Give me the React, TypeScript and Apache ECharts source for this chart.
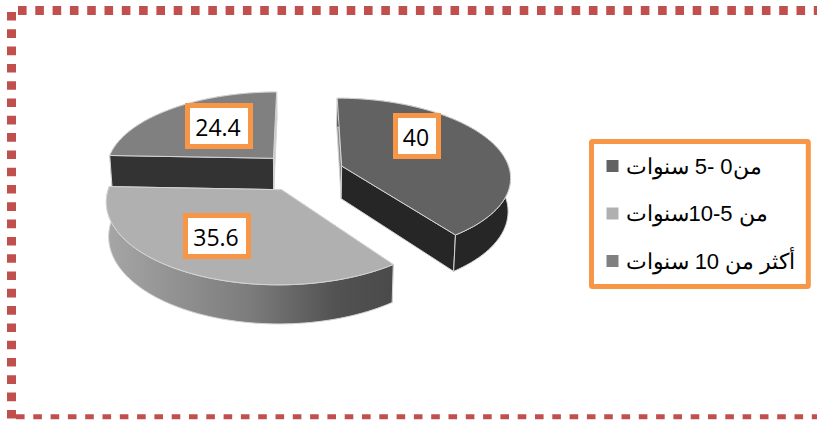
import React, { useEffect, useRef } from "react";
import * as echarts from "echarts";

const categories = ["من0 -5 سنوات", "من 5-10سنوات", "أكثر من 10 سنوات"];
const values = [40, 35.6, 24.4];
const valueLabels = ["40", "35.6", "24.4"];

const topColors = ["#626262", "#b0b0b0", "#808080"];
const wallColors: any[] = [
  "#262626",
  new echarts.graphic.LinearGradient(0, 0, 1, 0, [
    { offset: 0, color: "#a6a6a6" },
    { offset: 0.5, color: "#7c7c7c" },
    { offset: 0.8, color: "#525252" },
    { offset: 1, color: "#4a4a4a" },
  ]),
  "#333333",
];
const startCutColors = ["#8c8c8c", "#4a4a4a", "#333333"];
const endCutColors = ["#262626", "#4a4a4a", "#c8c8c8"];
const stackOrder = [2, 3, 1];
const labelBoxes = [
  { x: 395.5, y: 115.5, w: 43, h: 41 },
  { x: 185.5, y: 215.5, w: 63, h: 41 },
  { x: 187.5, y: 105.5, w: 63, h: 41 },
];

const ORANGE = "#F79646";
const DASH = "#C0504D";

// Tilted pie: the disc is projected with a mild perspective
const view = { cx: 302, cy: 172, a: 168.5, b: 78, k: 0.128, depth: 33, taper: 0.012, explode: 0.25 };

function project(u: number, v: number, h: number): number[] {
  const s = 1 / (1 - view.k * v);
  return [
    view.cx + view.a * u * s * (1 - view.taper * h),
    view.cy + view.b * v * s + h * view.depth * s,
  ];
}

function sliceAngles(index: number): number[] {
  const total = values.reduce((sum, v) => sum + v, 0);
  const before = values.slice(0, index).reduce((sum, v) => sum + v, 0);
  return [(before / total) * Math.PI * 2, ((before + values[index]) / total) * Math.PI * 2];
}

function renderSlice(index: number) {
  const [start, end] = sliceAngles(index);
  const mid = (start + end) / 2;
  const ou = view.explode * Math.sin(mid);
  const ov = -view.explode * Math.cos(mid);
  const rim = (t: number, h: number) => project(ou + Math.sin(t), ov - Math.cos(t), h);
  const apex = (h: number) => project(ou, ov, h);

  const steps = 72;
  const angles: number[] = [];
  for (let i = 0; i <= steps; i++) angles.push(start + ((end - start) * i) / steps);

  const top = [apex(0), ...angles.map((t) => rim(t, 0))];
  const wall = [...angles.map((t) => rim(t, 0)), ...angles.slice().reverse().map((t) => rim(t, 1))];
  const startCut = [apex(0), rim(start, 0), rim(start, 1), apex(1)];
  const endCut = [apex(0), rim(end, 0), rim(end, 1), apex(1)];
  const edge = { stroke: "#d4d4d4", lineWidth: 1 };
  const box = labelBoxes[index];

  const wallFace = { type: "polygon", shape: { points: wall }, style: { fill: wallColors[index], ...edge } };
  const cutFaces = [
    { type: "polygon", shape: { points: startCut }, style: { fill: startCutColors[index], ...edge } },
    { type: "polygon", shape: { points: endCut }, style: { fill: endCutColors[index], ...edge } },
  ];
  // The back slice shows its cut faces in front of its rim; the front slices the other way round
  const sides = index === 2 ? [wallFace, ...cutFaces] : [...cutFaces, wallFace];

  return {
    type: "group",
    children: [
      ...sides,
      { type: "polygon", shape: { points: top }, style: { fill: topColors[index], ...edge } },
      {
        type: "rect",
        shape: { x: box.x, y: box.y, width: box.w, height: box.h },
        style: { fill: "#ffffff", stroke: ORANGE, lineWidth: 5 },
      },
      {
        type: "text",
        style: {
          text: valueLabels[index],
          x: box.x + box.w / 2 - 1,
          y: box.y + box.h / 2 + 1,
          align: "center",
          verticalAlign: "middle",
          font: '23px "Open Sans"',
          fill: "#000000",
        },
      },
    ],
  };
}

// Dashed frame running round the left, top and bottom of the chart
function frame() {
  const line = (x1: number, y1: number, x2: number, y2: number, lineWidth: number) => ({
    type: "line",
    shape: { x1, y1, x2, y2 },
    style: { stroke: DASH, lineWidth, lineDash: [8.6, 8.7] },
    silent: true,
  });
  return [
    line(18, 10.5, 830, 10.5, 9),
    line(11.5, 12, 11.5, 419, 9),
    line(16, 416.8, 830, 416.8, 5),
  ];
}

export default function App() {
  const ref = useRef<HTMLDivElement>(null);

  useEffect(() => {
    const chart = echarts.init(ref.current!, undefined, { renderer: "svg" });
    chart.setOption({
      animation: false,
      backgroundColor: "#ffffff",
      graphic: { elements: frame() },
      legend: {
        data: categories,
        orient: "vertical",
        left: 591.5,
        top: 141.5,
        icon: "rect",
        itemWidth: 12,
        itemHeight: 12,
        itemGap: 23.5,
        selectedMode: false,
        padding: [12.5, 13, 13.5, 15],
        borderColor: ORANGE,
        borderWidth: 5,
        borderRadius: 1,
        textStyle: {
          fontFamily: "Liberation Sans",
          fontSize: 22,
          lineHeight: 24,
          color: "#000000",
          padding: [0, 0, 0, 2],
        },
      },
      series: categories.map((name, index) => ({
        type: "custom",
        name,
        coordinateSystem: "none",
        z: stackOrder[index],
        clip: false,
        silent: true,
        itemStyle: { color: topColors[index] },
        data: [values[index]],
        renderItem: () => renderSlice(index),
      })),
    });
    return () => chart.dispose();
  }, []);

  return (
    <div
      ref={ref}
      style={{ position: "absolute", left: 0, top: 0, width: 817, height: 421 }}
    />
  );
}
